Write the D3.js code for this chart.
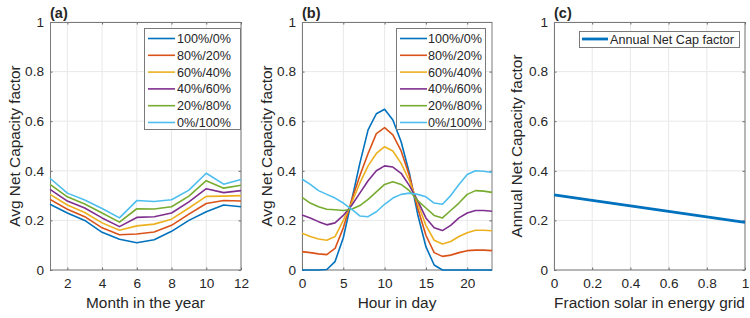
<!DOCTYPE html>
<html>
<head>
<meta charset="utf-8">
<script src="https://cdn.jsdelivr.net/npm/d3@7"></script>
<style>
  body { margin: 0; background: #fff; }
  svg { display: block; }
  text { font-family: "Liberation Sans", Arial, Helvetica, sans-serif; fill: #262626; }
</style>
</head>
<body>
<svg id="chart" width="750" height="318"></svg>
<script>
// ---------------- DATA ----------------
const mixLabels = ["100%/0%", "80%/20%", "60%/40%", "40%/60%", "20%/80%", "0%/100%"];
const mixColors = ["#0072BD", "#D95319", "#EDB120", "#7E2F8E", "#77AC30", "#4DBEEE"];

// Panel (a): monthly average net capacity factor
const months = [1, 2, 3, 4, 5, 6, 7, 8, 9, 10, 11, 12];
const monthly100_0 = [0.265, 0.230, 0.200, 0.152, 0.124, 0.110, 0.122, 0.156, 0.200, 0.235, 0.262, 0.255];
const monthly80_20 = [0.285, 0.245, 0.215, 0.170, 0.142, 0.145, 0.153, 0.180, 0.225, 0.268, 0.280, 0.278];
const monthly60_40 = [0.305, 0.262, 0.232, 0.190, 0.160, 0.178, 0.185, 0.205, 0.250, 0.297, 0.298, 0.300];
const monthly40_60 = [0.325, 0.278, 0.250, 0.210, 0.175, 0.212, 0.215, 0.230, 0.275, 0.328, 0.312, 0.320];
const monthly20_80 = [0.345, 0.295, 0.266, 0.230, 0.193, 0.247, 0.246, 0.255, 0.298, 0.360, 0.330, 0.342];
const monthly0_100 = [0.370, 0.310, 0.282, 0.248, 0.210, 0.280, 0.276, 0.283, 0.322, 0.390, 0.346, 0.365];

// Panel (b): hourly average net capacity factor
const hours = [0, 1, 2, 3, 4, 5, 6, 7, 8, 9, 10, 11, 12, 13, 14, 15, 16, 17, 18, 19, 20, 21, 22, 23];
const hourly100_0 = [0, 0, 0, 0.002, 0.034, 0.13, 0.28, 0.43, 0.565, 0.63, 0.648, 0.605, 0.517, 0.39, 0.225, 0.094, 0.02, 0, 0, 0, 0, 0, 0, 0];
const hourly80_20 = [0.074, 0.07, 0.065, 0.062, 0.087, 0.17, 0.28, 0.38, 0.47, 0.55, 0.574, 0.545, 0.48, 0.38, 0.25, 0.14, 0.07, 0.055, 0.06, 0.07, 0.078, 0.08, 0.08, 0.078];
const hourly60_40 = [0.148, 0.135, 0.125, 0.12, 0.135, 0.2, 0.27, 0.35, 0.42, 0.47, 0.497, 0.48, 0.43, 0.36, 0.27, 0.18, 0.12, 0.105, 0.115, 0.135, 0.15, 0.16, 0.16, 0.158];
const hourly40_60 = [0.222, 0.21, 0.195, 0.182, 0.19, 0.22, 0.26, 0.31, 0.36, 0.40, 0.42, 0.415, 0.39, 0.34, 0.28, 0.21, 0.17, 0.159, 0.18, 0.21, 0.23, 0.24, 0.24, 0.237];
const hourly20_80 = [0.293, 0.27, 0.255, 0.245, 0.243, 0.24, 0.245, 0.26, 0.285, 0.315, 0.345, 0.356, 0.345, 0.32, 0.28, 0.25, 0.22, 0.21, 0.24, 0.27, 0.305, 0.32, 0.318, 0.313];
const hourly0_100 = [0.367, 0.345, 0.32, 0.305, 0.29, 0.27, 0.245, 0.218, 0.215, 0.235, 0.265, 0.29, 0.305, 0.31, 0.305, 0.295, 0.27, 0.265, 0.30, 0.345, 0.385, 0.40, 0.398, 0.393];

// Panel (c): annual net capacity factor vs solar fraction
const solarFraction = [0, 1];
const annualNetCap = [0.303, 0.192];

// Tick values
const yTicks = [0, 0.2, 0.4, 0.6, 0.8, 1];
const monthTicks = [2, 4, 6, 8, 10, 12];
const hourTicks = [0, 5, 10, 15, 20];
const fracTicks = [0, 0.2, 0.4, 0.6, 0.8, 1];

const monthlySeries = [monthly100_0, monthly80_20, monthly60_40, monthly40_60, monthly20_80, monthly0_100];
const hourlySeries = [hourly100_0, hourly80_20, hourly60_40, hourly40_60, hourly20_80, hourly0_100];

// ---------------- DRAW ----------------
const svg = d3.select("#chart");
svg.append("rect").attr("width", 750).attr("height", 318).attr("fill", "#fff");

const plotTop = 22, plotBottom = 270;
const tickFont = 13.6, labelFont = 15.4, legendFont = 12.6;

function panel(opts) {
  const { left, right, xDomain, xTicks, xFmt, title, xLabel, yLabel, yLabelX } = opts;
  const x = d3.scaleLinear().domain(xDomain).range([left, right]);
  const y = d3.scaleLinear().domain([0, 1]).range([plotBottom, plotTop]);
  const g = svg.append("g");

  // grid
  g.selectAll(".gx").data(xTicks).enter().append("line")
    .attr("x1", d => x(d)).attr("x2", d => x(d)).attr("y1", plotTop).attr("y2", plotBottom)
    .attr("stroke", "#e8e8e8").attr("stroke-width", 1);
  g.selectAll(".gy").data(yTicks).enter().append("line")
    .attr("x1", left).attr("x2", right).attr("y1", d => y(d)).attr("y2", d => y(d))
    .attr("stroke", "#e8e8e8").attr("stroke-width", 1);

  // axes via d3 axis (inward ticks)
  const tl = 2.5;
  const xAxis = d3.axisBottom(x).tickValues(xTicks).tickSize(-tl).tickPadding(8).tickFormat(xFmt);
  const yAxis = d3.axisLeft(y).tickValues(yTicks).tickSize(-tl).tickPadding(6).tickFormat(d3.format("~g"));
  const xa = g.append("g").attr("transform", `translate(0,${plotBottom})`).call(xAxis);
  const ya = g.append("g").attr("transform", `translate(${left},0)`).call(yAxis);
  const xt = g.append("g").attr("transform", `translate(0,${plotTop})`).call(d3.axisTop(x).tickValues(xTicks).tickSize(-tl).tickFormat(""));
  const yr = g.append("g").attr("transform", `translate(${right},0)`).call(d3.axisRight(y).tickValues(yTicks).tickSize(-tl).tickFormat(""));
  [xa, ya, xt, yr].forEach(a => {
    a.select(".domain").remove();
    a.selectAll(".tick line").attr("stroke", "#666");
    a.selectAll("text").style("font-size", tickFont + "px").attr("fill", "#262626")
      .style("font-family", '"Liberation Sans", Arial, sans-serif');
  });

  // box
  g.append("rect").attr("x", left + 0.5).attr("y", plotTop + 0.5)
    .attr("width", right - left - 0.5).attr("height", plotBottom - plotTop - 0.5)
    .attr("fill", "none").attr("stroke", "#7a7a7a").attr("stroke-width", 1);

  // title
  g.append("text").attr("x", left).attr("y", 18).text(title)
    .style("font-size", "14.5px").style("font-weight", "bold");
  // x label
  g.append("text").attr("x", (left + right) / 2).attr("y", 308).attr("text-anchor", "middle")
    .style("font-size", labelFont + "px").text(xLabel);
  // y label
  g.append("text").attr("transform", `translate(${yLabelX},${(plotTop + plotBottom) / 2}) rotate(-90)`)
    .attr("text-anchor", "middle").attr("dy", "0.35em")
    .style("font-size", labelFont + "px").text(yLabel);

  return { g, x, y };
}

function legend(g, box, entries, lineW) {
  g.append("rect").attr("x", box.x + 0.5).attr("y", box.y + 0.5).attr("width", box.w).attr("height", box.h)
    .attr("fill", "#fff").attr("stroke", "#7a7a7a").attr("stroke-width", 1);
  entries.forEach((e, i) => {
    const cy = box.y0 + i * box.dy;
    g.append("line").attr("x1", box.lx1).attr("x2", box.lx2).attr("y1", cy).attr("y2", cy)
      .attr("stroke", e.color).attr("stroke-width", lineW);
    g.append("text").attr("x", box.tx).attr("y", cy).attr("dy", "0.36em")
      .style("font-size", legendFont + "px").text(e.label);
  });
}

// Panel (a)
{
  const p = panel({ left: 50, right: 241, xDomain: [1, 12], xTicks: monthTicks, xFmt: d3.format("d"),
    title: "(a)", xLabel: "Month in the year", yLabel: "Avg Net Capacity factor", yLabelX: 15 });
  const line = d3.line().x((d, i) => p.x(months[i])).y(d => p.y(d));
  monthlySeries.forEach((s, k) => {
    p.g.append("path").datum(s).attr("d", line).attr("fill", "none")
      .attr("stroke", mixColors[k]).attr("stroke-width", 1.6).attr("stroke-linejoin", "round");
  });
  legend(p.g, { x: 144, y: 28, w: 96, h: 101, y0: 38.5, dy: 16.8, lx1: 148, lx2: 175, tx: 177 },
    mixLabels.map((l, i) => ({ label: l, color: mixColors[i] })), 1.6);
}

// Panel (b)
{
  const p = panel({ left: 302, right: 492, xDomain: [0, 23], xTicks: hourTicks, xFmt: d3.format("d"),
    title: "(b)", xLabel: "Hour in day", yLabel: "Avg Net Capacity factor", yLabelX: 267 });
  const line = d3.line().x((d, i) => p.x(hours[i])).y(d => p.y(d));
  hourlySeries.forEach((s, k) => {
    p.g.append("path").datum(s).attr("d", line).attr("fill", "none")
      .attr("stroke", mixColors[k]).attr("stroke-width", 1.6).attr("stroke-linejoin", "round");
  });
  legend(p.g, { x: 396, y: 28, w: 89, h: 101, y0: 38.5, dy: 16.8, lx1: 400, lx2: 427, tx: 428 },
    mixLabels.map((l, i) => ({ label: l, color: mixColors[i] })), 1.6);
}

// Panel (c)
{
  const p = panel({ left: 554, right: 745, xDomain: [0, 1], xTicks: fracTicks, xFmt: d3.format("~g"),
    title: "(c)", xLabel: "Fraction solar in energy grid", yLabel: "Annual Net Capacity factor", yLabelX: 517 });
  const line = d3.line().x((d, i) => p.x(solarFraction[i])).y(d => p.y(d));
  p.g.append("path").datum(annualNetCap).attr("d", line).attr("fill", "none")
    .attr("stroke", mixColors[0]).attr("stroke-width", 2.8);
  legend(p.g, { x: 579, y: 31, w: 160, h: 16, y0: 39, dy: 0, lx1: 582, lx2: 608, tx: 610 },
    [{ label: "Annual Net Cap factor", color: mixColors[0] }], 2.8);
}
</script>
</body>
</html>
